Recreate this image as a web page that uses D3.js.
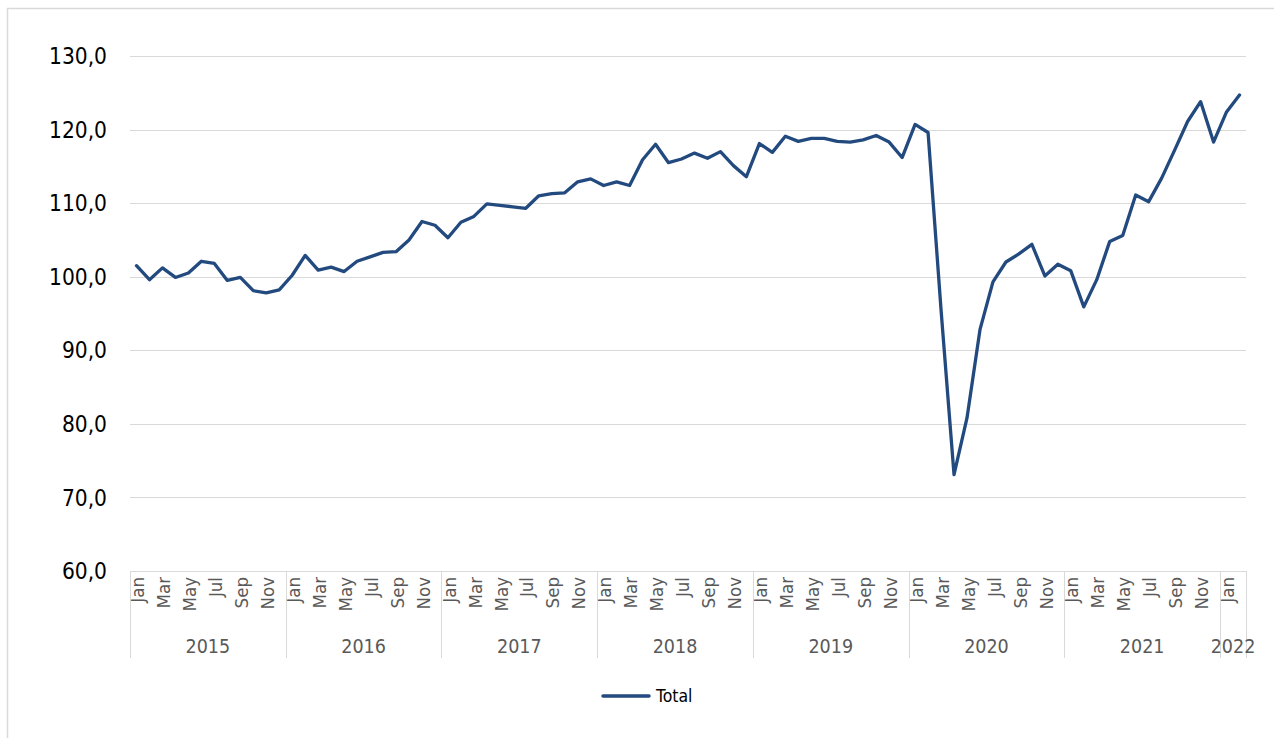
<!DOCTYPE html>
<html>
<head>
<meta charset="utf-8">
<script src="https://cdn.jsdelivr.net/npm/d3@7"></script>
<style>
  html, body { margin: 0; padding: 0; background: #fff; }
  svg { display: block; }
  text { font-family: "DejaVu Sans Condensed", "DejaVu Sans", sans-serif; }
</style>
</head>
<body>
<svg id="chart" width="1274" height="738"></svg>
<script>
// ---- data ----
const years = [2015, 2016, 2017, 2018, 2019, 2020, 2021, 2022];
const monthsPerYear = [12, 12, 12, 12, 12, 12, 12, 2];
const monthNames = ["Jan","Feb","Mar","Apr","May","Jun","Jul","Aug","Sep","Oct","Nov","Dec"];
const yTicks = [60, 70, 80, 90, 100, 110, 120, 130];
const seriesName = "Total";
const totalValues = [
  101.5, 99.6, 101.2, 99.9, 100.5, 102.1, 101.8, 99.5, 99.9, 98.1, 97.8, 98.2,
  100.2, 102.9, 100.9, 101.3, 100.7, 102.1, 102.7, 103.3, 103.4, 105.0, 107.5, 107.0,
  105.3, 107.4, 108.2, 109.9, 109.7, 109.5, 109.3, 111.0, 111.3, 111.4, 112.9, 113.3,
  112.4, 112.9, 112.4, 115.9, 118.0, 115.5, 116.0, 116.8, 116.1, 117.0, 115.1, 113.6,
  118.1, 116.9, 119.1, 118.4, 118.8, 118.8, 118.4, 118.3, 118.6, 119.2, 118.3, 116.2,
  120.7, 119.6, 95.5, 73.1, 80.8, 92.8, 99.3, 102.0, 103.1, 104.4, 100.1, 101.7,
  100.8, 95.9, 99.6, 104.8, 105.6, 111.1, 110.2, 113.4, 117.2, 121.1, 123.8, 118.3,
  122.4, 124.7
];

(function () {
// build categories
const categories = [];
years.forEach((yr, yi) => {
  for (let m = 0; m < monthsPerYear[yi]; m++) {
    categories.push({ key: yr + "-" + m, year: yr, month: m });
  }
});
const data = categories.map((c, i) => ({ ...c, value: totalValues[i] }));

// ---- layout ----
const svg = d3.select("#chart");
const plotLeft = 130, plotRight = 1246, plotTop = 56, plotBottom = 571;
const x = d3.scaleBand().domain(categories.map(c => c.key)).range([plotLeft, plotRight]).padding(0);
const y = d3.scaleLinear().domain([60, 130]).range([plotBottom, plotTop]);
const grey = "#d9d9d9";
const lineColor = "#234a7e";

// outer frame
svg.append("rect")
  .attr("x", 7.5).attr("y", 8.5).attr("width", 1300).attr("height", 800)
  .attr("fill", "none").attr("stroke", grey).attr("stroke-width", 1.5);

// gridlines
svg.append("g").selectAll("line").data(yTicks).join("line")
  .attr("x1", plotLeft).attr("x2", plotRight)
  .attr("y1", d => Math.round(y(d)) + 0.5).attr("y2", d => Math.round(y(d)) + 0.5)
  .attr("stroke", grey).attr("stroke-width", 1);

// y labels
svg.append("g").selectAll("text").data(yTicks).join("text")
  .attr("x", 107).attr("y", d => y(d)).attr("dy", "0.36em")
  .attr("text-anchor", "end").attr("font-size", 22.5).attr("fill", "#000")
  .text(d => d3.format(".1f")(d).replace(".", ","));

// year group separators
let cum = 0;
const groups = years.map((yr, yi) => {
  const start = categories[cum].key;
  const end = categories[cum + monthsPerYear[yi] - 1].key;
  cum += monthsPerYear[yi];
  return { year: yr, x0: x(start), x1: x(end) + x.bandwidth() };
});
const sepX = [groups[0].x0, ...groups.map(g => g.x1)];
svg.append("g").selectAll("line").data(sepX).join("line")
  .attr("x1", d => Math.round(d) + 0.5).attr("x2", d => Math.round(d) + 0.5)
  .attr("y1", plotBottom).attr("y2", 658)
  .attr("stroke", grey).attr("stroke-width", 1);

// month labels (every other month)
svg.append("g").selectAll("text")
  .data(categories.filter(c => c.month % 2 === 0))
  .join("text")
  .attr("transform", d => `translate(${x(d.key) + x.bandwidth() / 2 + 1},577) rotate(-90)`)
  .attr("dy", "0.36em")
  .attr("text-anchor", "end").attr("font-size", 18.5).attr("fill", "#595959")
  .text(d => monthNames[d.month]);

// year labels
svg.append("g").selectAll("text").data(groups).join("text")
  .attr("x", d => (d.x0 + d.x1) / 2).attr("y", 653)
  .attr("text-anchor", "middle").attr("font-size", 19.5).attr("fill", "#595959")
  .text(d => d.year);

// line
const line = d3.line()
  .x(d => x(d.key) + x.bandwidth() / 2)
  .y(d => y(d.value));
svg.append("path").datum(data)
  .attr("d", line)
  .attr("fill", "none").attr("stroke", lineColor)
  .attr("stroke-width", 3.3).attr("stroke-linejoin", "round").attr("stroke-linecap", "round");

// legend
const lg = svg.append("g");
lg.append("line").attr("x1", 603).attr("x2", 649).attr("y1", 696).attr("y2", 696)
  .attr("stroke", lineColor).attr("stroke-width", 3.5).attr("stroke-linecap", "round");
lg.append("text").attr("x", 656).attr("y", 696).attr("dy", "0.36em")
  .attr("font-size", 17.5).attr("fill", "#000").text(seriesName);
})();
</script>
</body>
</html>
